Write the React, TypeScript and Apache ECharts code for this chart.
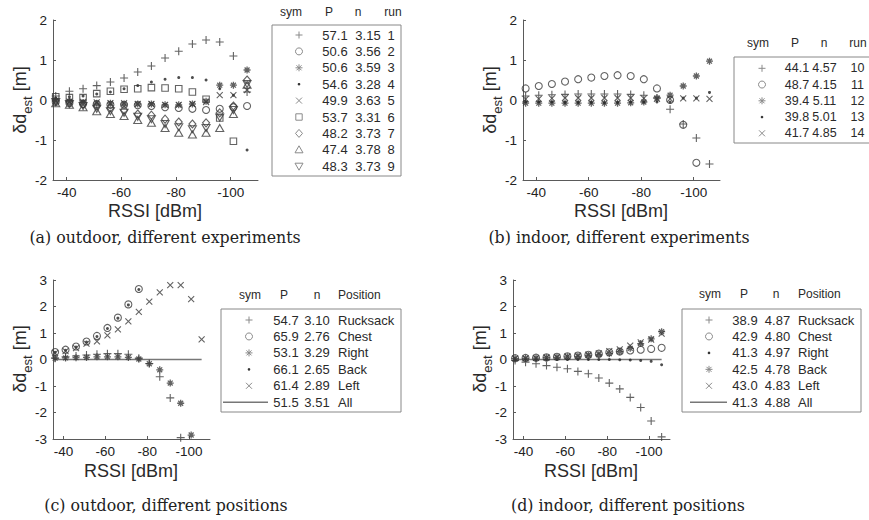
import React, { useEffect, useRef } from 'react';
import * as echarts from 'echarts';

// ---------- data ----------
const rssi = [-36, -41, -46, -51, -56, -61, -66, -71, -76, -81, -86, -91, -96, -101, -106];
const rssiTicks = [-40, -60, -80, -100];
const fitX = [-35, -106];
const fitY = [0, 0];

// (a) outdoor, different experiments
const aRun1 = [0.1, 0.22, 0.28, 0.36, 0.45, 0.55, 0.7, 0.85, 1.05, 1.22, 1.4, 1.5, 1.45, 1.1, 0.2];
const aRun2 = [-0.05, -0.08, -0.1, -0.1, -0.12, -0.12, -0.13, -0.15, -0.18, -0.2, -0.22, -0.25, -0.22, -0.18, -0.15];
const aRun3 = [-0.02, -0.04, -0.06, -0.08, -0.08, -0.1, -0.1, -0.1, -0.12, -0.12, -0.1, -0.03, 0.37, 0.37, 0.75];
const aRun4 = [0.05, 0.08, 0.1, 0.15, 0.2, 0.28, 0.36, 0.45, 0.52, 0.56, 0.56, 0.5, 0.28, 0.12, -1.25];
const aRun5 = [-0.02, -0.04, -0.05, -0.06, -0.08, -0.08, -0.1, -0.1, -0.12, -0.12, -0.1, -0.05, 0.12, 0.12, 0.25];
const aRun6 = [0.08, 0.06, 0.06, 0.16, 0.22, 0.27, 0.28, 0.31, 0.3, 0.28, 0.2, 0.02, -0.45, -1.03, null];
const aRun7 = [-0.02, -0.05, -0.1, -0.15, -0.2, -0.25, -0.35, -0.38, -0.48, -0.55, -0.6, -0.57, -0.32, -0.15, 0.5];
const aRun8 = [-0.08, -0.12, -0.18, -0.28, -0.35, -0.4, -0.5, -0.57, -0.7, -0.82, -0.86, -0.82, -0.7, -0.35, 0.38];
const aRun9 = [-0.05, -0.1, -0.15, -0.22, -0.28, -0.32, -0.42, -0.48, -0.6, -0.68, -0.73, -0.7, -0.44, -0.25, 0.4];
const aSyms = ['plus', 'circle', 'star', 'dot', 'cross', 'square', 'diamond', 'triUp', 'triDown'];
const aP = ['57.1', '50.6', '50.6', '54.6', '49.9', '53.7', '48.2', '47.4', '48.3'];
const aN = ['3.15', '3.56', '3.59', '3.28', '3.63', '3.31', '3.73', '3.78', '3.73'];
const aRunLabels = ['1', '2', '3', '4', '5', '6', '7', '8', '9'];

// (b) indoor, different experiments
const bRun10 = [0.1, 0.12, 0.13, 0.14, 0.15, 0.15, 0.15, 0.15, 0.14, 0.12, 0.05, -0.23, -0.6, -0.95, -1.6];
const bRun11 = [0.29, 0.35, 0.4, 0.46, 0.52, 0.56, 0.6, 0.62, 0.6, 0.52, 0.29, 0.0, -0.62, -1.57, null];
const bRun12 = [-0.08, -0.08, -0.08, -0.08, -0.08, -0.08, -0.08, -0.08, -0.07, -0.05, 0.05, 0.12, 0.35, 0.6, 0.97];
const bRun13 = [-0.05, -0.05, -0.05, -0.06, -0.06, -0.06, -0.07, -0.06, -0.05, -0.05, -0.05, -0.05, 0.05, 0.05, 0.19];
const bRun14 = [0.02, 0.03, 0.04, 0.05, 0.05, 0.05, 0.05, 0.05, 0.05, 0.04, 0.03, 0.03, 0.04, 0.04, 0.03];
const bSyms = ['plus', 'circle', 'star', 'dot', 'cross'];
const bP = ['44.1', '48.7', '39.4', '39.8', '41.7'];
const bN = ['4.57', '4.15', '5.11', '5.01', '4.85'];
const bRunLabels = ['10', '11', '12', '13', '14'];

// (c) outdoor, different positions
const cRucksack = [0.05, 0.1, 0.13, 0.17, 0.2, 0.22, 0.22, 0.2, 0.05, -0.15, -0.65, -1.45, -2.95, null, null];
const cChest = [0.28, 0.37, 0.49, 0.68, 0.89, 1.19, 1.58, 2.08, 2.66, null, null, null, null, null, null];
const cRight = [0.05, 0.06, 0.07, 0.08, 0.1, 0.1, 0.1, 0.08, 0.02, -0.16, -0.39, -0.89, -1.65, -2.85, null];
const cBack = [0.27, 0.35, 0.47, 0.66, 0.87, 1.17, 1.56, 2.06, 2.64, null, null, null, null, null, null];
const cLeft = [0.24, 0.32, 0.43, 0.6, 0.68, 0.91, 1.14, 1.44, 1.8, 2.18, 2.53, 2.81, 2.81, 2.28, 0.76];
const cSyms = ['plus', 'circle', 'star', 'dot', 'cross', 'line'];
const cP = ['54.7', '65.9', '53.1', '66.1', '61.4', '51.5'];
const cN = ['3.10', '2.76', '3.29', '2.65', '2.89', '3.51'];
const cPos = ['Rucksack', 'Chest', 'Right', 'Back', 'Left', 'All'];

// (d) indoor, different positions
const dRucksack = [-0.04, -0.1, -0.16, -0.23, -0.29, -0.35, -0.45, -0.54, -0.7, -0.89, -1.11, -1.43, -1.81, -2.32, -2.92];
const dChest = [0.05, 0.06, 0.07, 0.08, 0.1, 0.12, 0.15, 0.18, 0.22, 0.27, 0.3, 0.34, 0.37, 0.4, 0.44];
const dRight = [0, 0, 0, 0, 0, 0, 0, 0, 0, 0, -0.01, -0.02, -0.04, -0.07, -0.2];
const dBack = [0.03, 0.04, 0.05, 0.07, 0.08, 0.1, 0.12, 0.15, 0.18, 0.22, 0.3, 0.42, 0.6, 0.78, 1.05];
const dLeft = [0.04, 0.05, 0.06, 0.08, 0.1, 0.12, 0.15, 0.18, 0.23, 0.32, 0.38, 0.52, 0.65, 0.75, 0.98];
const dSyms = ['plus', 'circle', 'dot', 'star', 'cross', 'line'];
const dP = ['38.9', '42.9', '41.3', '42.5', '43.0', '41.3'];
const dN = ['4.87', '4.80', '4.97', '4.78', '4.83', '4.88'];
const dPos = ['Rucksack', 'Chest', 'Right', 'Back', 'Left', 'All'];

const captions = [
  '(a) outdoor, different experiments',
  '(b) indoor, different experiments',
  '(c) outdoor, different positions',
  '(d) indoor, different positions',
];

// ---------- styling ----------
const SANS = '"Liberation Sans", Arial, sans-serif';
const SERIF = '"DejaVu Serif", "Liberation Serif", serif';
const MARK = '#3c3c3c';
const AXIS = '#5a5a5a';
const LEG = '#8a8a8a';

const SYMBOL: Record<string, string> = {
  plus: 'path://M0,5L10,5M5,0L5,10',
  cross: 'path://M0,0L10,10M0,10L10,0',
  star: 'path://M5,0L5,10M0,5L10,5M1.5,1.5L8.5,8.5M1.5,8.5L8.5,1.5',
  circle: 'circle',
  dot: 'circle',
  square: 'rect',
  diamond: 'diamond',
  triUp: 'triangle',
  triDown: 'path://M0,0L10,0L5,8.66Z',
};
const SIZE: Record<string, number | number[]> = {
  plus: 8, cross: 6, star: 7, circle: 7, dot: 3, square: 6.5, diamond: [7, 8], triUp: [8, 7], triDown: [8, 7],
};

const grids = [
  { left: 53, top: 20, width: 205, height: 160 },
  { left: 523, top: 20, width: 197, height: 160 },
  { left: 53, top: 280, width: 157, height: 159 },
  { left: 513, top: 280, width: 157, height: 159 },
];
const yRanges = [[-2, 2], [-2, 2], [-3, 3], [-3, 3]];

function scatter(sym: string, ys: (number | null)[], idx: number) {
  const data = rssi.map((x, i) => (ys[i] == null ? null : [x, ys[i]])).filter((d) => d != null);
  const isDot = sym === 'dot';
  return {
    type: 'scatter',
    xAxisIndex: idx,
    yAxisIndex: idx,
    data,
    symbol: SYMBOL[sym],
    symbolSize: SIZE[sym],
    silent: true,
    itemStyle: isDot
      ? { color: '#222', borderWidth: 0 }
      : { color: 'transparent', borderColor: MARK, borderWidth: sym === 'star' ? 1.3 : 1.1 },
  };
}

function fitLine(idx: number) {
  return {
    type: 'line',
    xAxisIndex: idx,
    yAxisIndex: idx,
    data: fitX.map((x, i) => [x, fitY[i]]),
    symbol: 'none',
    silent: true,
    lineStyle: { color: '#777', width: 1.5 },
    z: 1,
  };
}

function legendSym(kind: string, cx: number, cy: number): any[] {
  const st = { stroke: LEG, lineWidth: 1, fill: 'none' };
  const ln = (x1: number, y1: number, x2: number, y2: number) => ({ type: 'line', shape: { x1, y1, x2, y2 }, style: st });
  switch (kind) {
    case 'plus': return [ln(cx - 3.5, cy, cx + 3.5, cy), ln(cx, cy - 3.5, cx, cy + 3.5)];
    case 'cross': return [ln(cx - 3, cy - 3, cx + 3, cy + 3), ln(cx - 3, cy + 3, cx + 3, cy - 3)];
    case 'star': return [ln(cx - 3.5, cy, cx + 3.5, cy), ln(cx, cy - 3.5, cx, cy + 3.5), ln(cx - 2.5, cy - 2.5, cx + 2.5, cy + 2.5), ln(cx - 2.5, cy + 2.5, cx + 2.5, cy - 2.5)];
    case 'circle': return [{ type: 'circle', shape: { cx, cy, r: 3.5 }, style: st }];
    case 'dot': return [{ type: 'circle', shape: { cx, cy, r: 1.3 }, style: { fill: '#333' } }];
    case 'square': return [{ type: 'rect', shape: { x: cx - 3.2, y: cy - 3.2, width: 6.4, height: 6.4 }, style: st }];
    case 'diamond': return [{ type: 'polygon', shape: { points: [[cx, cy - 4], [cx + 3.5, cy], [cx, cy + 4], [cx - 3.5, cy]] }, style: st }];
    case 'triUp': return [{ type: 'polygon', shape: { points: [[cx, cy - 4], [cx + 4, cy + 3], [cx - 4, cy + 3]] }, style: st }];
    case 'triDown': return [{ type: 'polygon', shape: { points: [[cx, cy + 4], [cx + 4, cy - 3], [cx - 4, cy - 3]] }, style: st }];
    default: return [];
  }
}

function txt(text: string, x: number, y: number, size: number, align = 'center', fill = '#2a2a2a', font = SANS): any {
  return { type: 'text', x, y, style: { text, fontSize: size, fontFamily: font, fill, align, verticalAlign: 'middle' }, z: 10 };
}

interface LegendSpec {
  box: number[];
  headY: number;
  heads: { t: string; x: number; align?: string }[];
  rowY0: number;
  dy: number;
  symX: number;
  syms: string[];
  cols: { vals: string[]; x: number; align: string }[];
  lineX?: number[];
  fs?: number;
}

function legend(spec: LegendSpec): any[] {
  const out: any[] = [];
  const [bx, by, bw, bh] = spec.box;
  const fs = spec.fs || 13;
  out.push({ type: 'rect', shape: { x: bx, y: by, width: bw, height: bh }, style: { fill: '#fff', stroke: '#888', lineWidth: 1 }, z: 5 });
  spec.heads.forEach((h) => out.push(txt(h.t, h.x, spec.headY, 12, h.align || 'center')));
  spec.syms.forEach((s, i) => {
    const y = spec.rowY0 + i * spec.dy;
    if (s === 'line' && spec.lineX) {
      out.push({ type: 'line', shape: { x1: spec.lineX[0], y1: y, x2: spec.lineX[1], y2: y }, style: { stroke: '#777', lineWidth: 1.5 }, z: 10 });
    } else {
      legendSym(s, spec.symX, y).forEach((e) => out.push({ ...e, z: 10 }));
    }
    spec.cols.forEach((c) => out.push(txt(c.vals[i], c.x, y, fs, c.align)));
  });
  return out;
}

function yName(x: number, y: number): any {
  return {
    type: 'text', x, y, rotation: Math.PI / 2, z: 10,
    style: {
      text: '{a|δd}{s|est}{a| [m]}',
      align: 'center', verticalAlign: 'middle',
      rich: {
        a: { fontSize: 18, fontFamily: SANS, fill: '#2a2a2a', lineHeight: 24, verticalAlign: 'middle' },
        s: { fontSize: 13, fontFamily: SANS, fill: '#2a2a2a', lineHeight: 28, verticalAlign: 'bottom' },
      },
    },
  };
}

function buildOption() {
  const series: any[] = [];
  [aRun1, aRun2, aRun3, aRun4, aRun5, aRun6, aRun7, aRun8, aRun9].forEach((ys, i) => series.push(scatter(aSyms[i], ys, 0)));
  [bRun10, bRun11, bRun12, bRun13, bRun14].forEach((ys, i) => series.push(scatter(bSyms[i], ys, 1)));
  series.push(fitLine(2));
  [cRucksack, cChest, cRight, cBack, cLeft].forEach((ys, i) => series.push(scatter(cSyms[i], ys, 2)));
  series.push(fitLine(3));
  [dRucksack, dChest, dRight, dBack, dLeft].forEach((ys, i) => series.push(scatter(dSyms[i], ys, 3)));

  const xAxis = grids.map((_, i) => ({
    gridIndex: i, type: 'value', inverse: true, min: -110, max: -35,
    axisLine: { show: true, onZero: false, lineStyle: { color: AXIS, width: 1 } },
    axisTick: { show: true, inside: true, length: 3, customValues: rssiTicks, lineStyle: { color: AXIS } },
    axisLabel: { customValues: rssiTicks, color: '#222', fontSize: 13.5, fontFamily: SANS, margin: 5 },
    splitLine: { show: false },
  }));
  const yAxis = grids.map((_, i) => ({
    gridIndex: i, type: 'value', min: yRanges[i][0], max: yRanges[i][1], interval: 1,
    axisLine: { show: true, onZero: false, lineStyle: { color: AXIS, width: 1 } },
    axisTick: { show: true, inside: true, length: 3, lineStyle: { color: AXIS } },
    axisLabel: { color: '#222', fontSize: 13.5, fontFamily: SANS, margin: 6 },
    splitLine: { show: false },
  }));

  const graphic: any[] = [];
  // axis names
  graphic.push(yName(20, 100), yName(490, 100), yName(20, 359), yName(480, 359));
  graphic.push(txt('RSSI [dBm]', 155, 211, 18), txt('RSSI [dBm]', 621, 211, 18), txt('RSSI [dBm]', 131, 471, 18), txt('RSSI [dBm]', 591, 471, 18));
  // captions
  graphic.push(txt(captions[0], 165, 237, 15.8, 'center', '#222', SERIF));
  graphic.push(txt(captions[1], 619, 237, 15.8, 'center', '#222', SERIF));
  graphic.push(txt(captions[2], 166, 505, 15.8, 'center', '#222', SERIF));
  graphic.push(txt(captions[3], 628, 505, 15.8, 'center', '#222', SERIF));

  graphic.push(...legend({
    box: [272, 25, 129, 151], headY: 12,
    heads: [{ t: 'sym', x: 291 }, { t: 'P', x: 329 }, { t: 'n', x: 358 }, { t: 'run', x: 393 }],
    rowY0: 35, dy: 16.4, symX: 299, syms: aSyms,
    cols: [{ vals: aP, x: 335, align: 'center' }, { vals: aN, x: 368, align: 'center' }, { vals: aRunLabels, x: 391, align: 'center' }],
  }));
  graphic.push(...legend({
    box: [734, 57, 150, 86], headY: 43, fs: 12.5,
    heads: [{ t: 'sym', x: 758 }, { t: 'P', x: 795 }, { t: 'n', x: 824 }, { t: 'run', x: 858 }],
    rowY0: 68.3, dy: 16.25, symX: 762, syms: bSyms,
    cols: [{ vals: bP, x: 797, align: 'center' }, { vals: bN, x: 824.5, align: 'center' }, { vals: bRunLabels, x: 857.5, align: 'center' }],
  }));
  graphic.push(...legend({
    box: [221, 309, 180, 103], headY: 295,
    heads: [{ t: 'sym', x: 250 }, { t: 'P', x: 284 }, { t: 'n', x: 317 }, { t: 'Position', x: 338, align: 'left' }],
    rowY0: 320, dy: 16.45, symX: 249, syms: cSyms,
    cols: [{ vals: cP, x: 286, align: 'center' }, { vals: cN, x: 317, align: 'center' }, { vals: cPos, x: 338, align: 'left' }],
    lineX: [223, 268],
  }));
  graphic.push(...legend({
    box: [682, 309, 179, 103], headY: 294,
    heads: [{ t: 'sym', x: 710 }, { t: 'P', x: 744 }, { t: 'n', x: 776 }, { t: 'Position', x: 798, align: 'left' }],
    rowY0: 320, dy: 16.45, symX: 709, syms: dSyms,
    cols: [{ vals: dP, x: 745, align: 'center' }, { vals: dN, x: 777.5, align: 'center' }, { vals: dPos, x: 798, align: 'left' }],
    lineX: [690, 727],
  }));

  return {
    animation: false,
    backgroundColor: '#fff',
    textStyle: { fontFamily: SANS },
    grid: grids.map((g) => ({ ...g, containLabel: false })),
    xAxis,
    yAxis,
    series,
    graphic,
  };
}

export default function App() {
  const ref = useRef<HTMLDivElement>(null);
  useEffect(() => {
    if (!ref.current) return;
    const chart = echarts.init(ref.current, undefined, { renderer: 'svg' });
    chart.setOption(buildOption() as any);
    return () => chart.dispose();
  }, []);
  return <div ref={ref} style={{ position: 'fixed', left: 0, top: 0, width: 869, height: 520, background: '#fff' }} />;
}
